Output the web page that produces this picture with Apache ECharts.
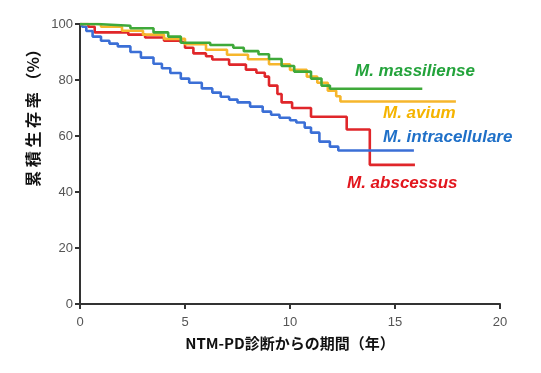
<!DOCTYPE html>
<html><head><meta charset="utf-8">
<script src="https://cdn.jsdelivr.net/npm/echarts@6/dist/echarts.min.js"></script>
<style>html,body{margin:0;padding:0;background:#fff}#c{width:541px;height:373px}</style>
</head><body><div id="c"></div>
<script>
var xTicks = [0, 5, 10, 15, 20];
var yTicks = [0, 20, 40, 60, 80, 100];
var seriesNames = ['M. massiliense', 'M. avium', 'M. intracellulare', 'M. abscessus'];
var massilienseTime = [0, 0.8, 2.4, 3.5, 4.2, 4.8, 6.2, 7.3, 7.8, 8.5, 9.0, 9.6, 10.2, 11.0, 11.5, 11.9, 16.3];
var massilienseSurv = [100, 99.4, 98.5, 97, 95.5, 93.3, 92.5, 91.5, 90.3, 89.2, 87.5, 85, 83, 80.5, 78, 76.9, 76.9];
var aviumTime = [0, 1, 2, 3, 4, 5, 6, 7, 8, 9, 10, 10.8, 11.3, 11.8, 12.2, 12.4, 17.9];
var aviumSurv = [100, 99, 97.6, 96.2, 94.7, 92.8, 90.8, 89, 87.4, 85.6, 83.6, 81.2, 79, 76.2, 74.2, 72.3, 72.3];
var intraTime = [0, 0.1, 0.3, 0.6, 1.0, 1.4, 1.8, 2.4, 2.9, 3.5, 3.9, 4.3, 4.8, 5.2, 5.8, 6.3, 6.7, 7.1, 7.5, 8.1, 8.7, 9.1, 9.5, 10.0, 10.3, 10.7, 11.0, 11.4, 11.9, 12.3, 15.9];
var intraSurv = [100, 99, 97.5, 95.5, 94, 93, 92, 90, 88, 85.8, 84.2, 82.5, 80.5, 79, 77, 75.5, 74, 73, 72, 70.5, 68.7, 67.6, 66.5, 65.6, 64.8, 63, 61.2, 58, 56.2, 54.8, 54.8];
var abscTime = [0, 0.4, 0.7, 2.3, 3.1, 4.0, 4.7, 5.0, 5.4, 6.0, 6.3, 7.1, 7.9, 8.4, 8.8, 9.0, 9.4, 9.6, 10.1, 11.0, 12.7, 13.8, 15.95];
var abscSurv = [100, 99, 97, 96.2, 95.2, 94, 93.4, 91.5, 89.5, 88.5, 87.3, 85.5, 83.7, 82.6, 81.2, 78, 75, 72, 70, 66.9, 62.3, 49.7, 49.7];

function pairs(t, s){ return t.map(function(v,i){ return [v, s[i]]; }); }
var colors = ['#3fa93a', '#f6b62c', '#3b6fd6', '#e0262a'];
var labelColors = ['#23a33b', '#f5b400', '#1f70c8', '#e2161d'];
var data = [pairs(massilienseTime, massilienseSurv), pairs(aviumTime, aviumSurv), pairs(intraTime, intraSurv), pairs(abscTime, abscSurv)];
var labelPos = [[355, 71], [383, 113], [383, 137], [347, 183]];
var order = [3, 2, 1, 0];

var chart = echarts.init(document.getElementById('c'));
var series = order.map(function(i){
  return {
    type: 'line', name: seriesNames[i], step: 'end', data: data[i],
    showSymbol: false, symbol: 'none', animation: false,
    lineStyle: { color: colors[i], width: 2.6 }
  };
});
var graphics = seriesNames.map(function(n, i){
  return { type: 'text', x: labelPos[i][0], y: labelPos[i][1],
    style: { text: n, fill: labelColors[i], font: 'italic bold 17px "Liberation Sans", Arial, sans-serif', verticalAlign: 'middle', align: 'left' } };
});
graphics.push({ type: 'text', x: 33, y: 114, rotation: Math.PI/2,
  style: { text: '累 積 生 存 率 （%）', fill: '#111', font: 'bold 16px "Noto Sans CJK JP", sans-serif', align: 'center', verticalAlign: 'middle' } });
chart.setOption({
  animation: false,
  grid: { left: 80, right: 41, top: 24, bottom: 69, containLabel: false },
  xAxis: {
    type: 'value', min: 0, max: 20, interval: 5,
    axisLine: { show: true, lineStyle: { color: '#333', width: 2 } },
    axisTick: { show: true, length: 5, lineStyle: { color: '#333', width: 2 } },
    splitLine: { show: false },
    axisLabel: { color: '#555', fontSize: 13, fontFamily: '"Liberation Sans", Arial, sans-serif', margin: 12,
      formatter: function(v){ return xTicks.indexOf(v) >= 0 ? String(v) : ''; } },
    name: 'NTM-PD診断からの期間（年）', nameLocation: 'middle', nameGap: 32,
    nameTextStyle: { color: '#111', fontSize: 15, fontWeight: 'bold', fontFamily: '"Noto Sans CJK JP", sans-serif' }
  },
  yAxis: {
    type: 'value', min: 0, max: 100, interval: 20,
    axisLine: { show: true, lineStyle: { color: '#333', width: 2 } },
    axisTick: { show: true, length: 5, lineStyle: { color: '#333', width: 2 } },
    splitLine: { show: false },
    axisLabel: { color: '#555', fontSize: 13, fontFamily: '"Liberation Sans", Arial, sans-serif', margin: 7,
      formatter: function(v){ return yTicks.indexOf(v) >= 0 ? String(v) : ''; } }
  },
  graphic: graphics,
  series: series
});
</script></body></html>
